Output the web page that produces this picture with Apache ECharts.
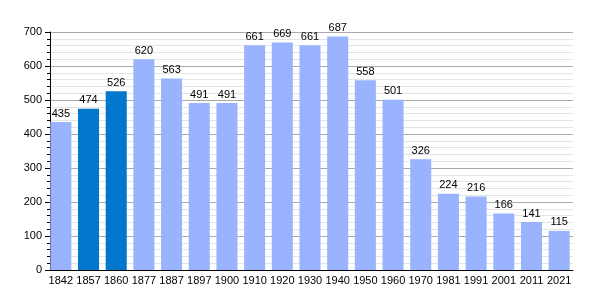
<!DOCTYPE html>
<html>
<head>
	<meta charset="utf-8">
	<title></title>
	<style type="text/css">
		html, body { margin: 0; padding: 0; background: #fff; }
		#main { width: 600px; height: 300px; }
	</style>
	<script src="https://cdn.jsdelivr.net/npm/echarts@6/dist/echarts.min.js"></script>
</head>
<body>
	<div id="main"></div>
	<script type="text/javascript">
		var years = ['1842', '1857', '1860', '1877', '1887', '1897', '1900', '1910', '1920', '1930',
			'1940', '1950', '1960', '1970', '1981', '1991', '2001', '2011', '2021'];
		var population = [435, 474, 526, 620, 563, 491, 491, 661, 669, 661,
			687, 558, 501, 326, 224, 216, 166, 141, 115];
		// years drawn in the darker blue
		var highlighted = ['1857', '1860'];

		var chart = echarts.init(document.getElementById('main'));
		var option = {
			animation: false,
			grid: { left: 47, right: 27, top: 32, bottom: 30, containLabel: false },
			xAxis: {
				type: 'category',
				data: years,
				axisLine: { lineStyle: { color: '#000', width: 1 } },
				axisTick: { show: false },
				axisLabel: { color: '#000', fontSize: 11, fontFamily: 'Liberation Sans', margin: 5, interval: 0 }
			},
			yAxis: {
				type: 'value',
				min: 0,
				max: 700,
				interval: 100,
				offset: -3,
				axisLine: { show: true, lineStyle: { color: '#000', width: 1 } },
				axisTick: { show: true, length: 5, lineStyle: { color: '#000' } },
				minorTick: { show: true, splitNumber: 5, length: 3, lineStyle: { color: '#000' } },
				splitLine: { lineStyle: { color: '#aaa', width: 1 } },
				minorSplitLine: { show: true, lineStyle: { color: '#e4e4e4', width: 1 } },
				axisLabel: { color: '#000', fontSize: 11, fontFamily: 'Liberation Sans', margin: 8 }
			},
			series: [{
				type: 'bar',
				barCategoryGap: '24%',
				data: population.map(function (v, i) {
					return {
						value: v,
						itemStyle: { color: highlighted.indexOf(years[i]) >= 0 ? '#0077cc' : '#99b3ff' }
					};
				}),
				label: {
					show: true,
					position: 'top',
					distance: 3,
					color: '#000',
					fontSize: 11,
					fontFamily: 'Liberation Sans'
				}
			}]
		};
		chart.setOption(option);
	</script>
</body>
</html>
